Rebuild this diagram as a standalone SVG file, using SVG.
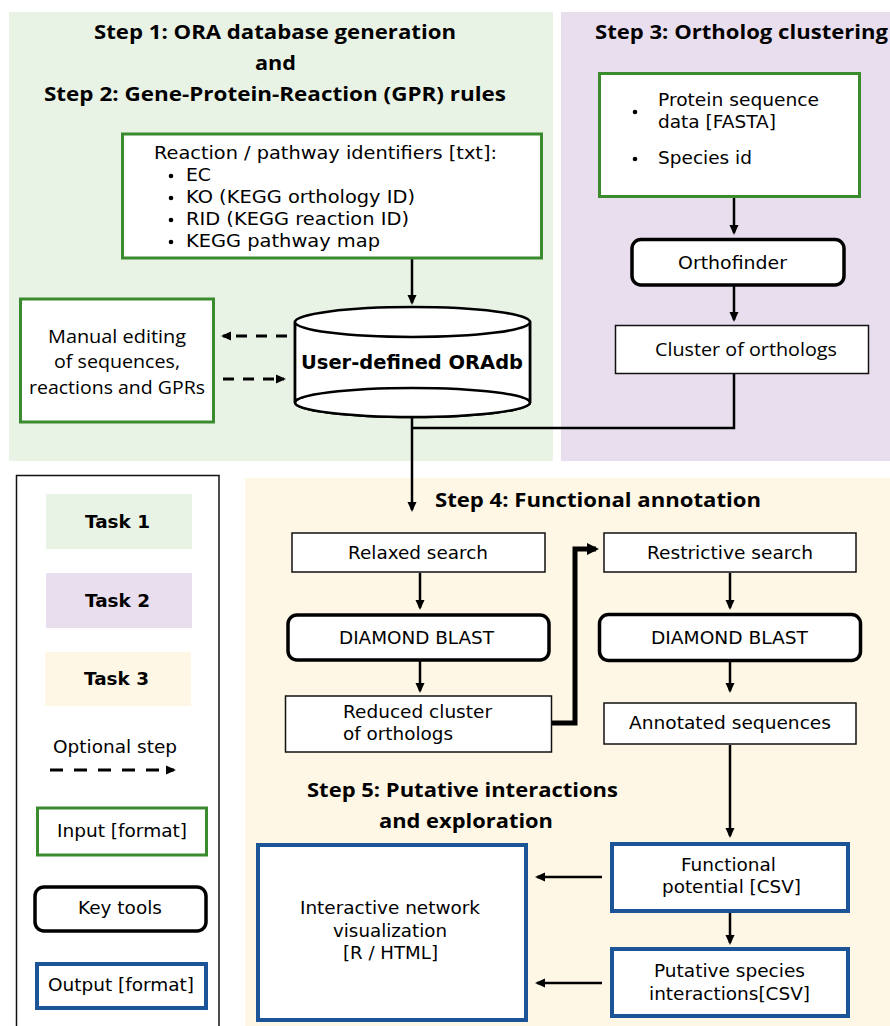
<svg xmlns="http://www.w3.org/2000/svg" width="890" height="1026" viewBox="0 0 890 1026">
<style>
.dv{font-family:"DejaVu Sans",Verdana,sans-serif;fill:#000}
.dvb{font-family:"DejaVu Sans",Verdana,sans-serif;font-weight:bold;fill:#000}
.os{font-family:"Open Sans",sans-serif;fill:#000}
.ttl{font-family:"Open Sans",sans-serif;font-weight:bold;font-size:19.5px;fill:#000}
.in{fill:#fff;stroke:#3a8a2e;stroke-width:3}
.out{fill:#fff;stroke:#1b5597;stroke-width:4}
.tool{fill:#fff;stroke:#000;stroke-width:3.5}
.plain{fill:#fff;stroke:#111;stroke-width:1.5}
.ar{fill:none;stroke:#000;stroke-width:2.5}
.dash{fill:none;stroke:#000;stroke-width:3;stroke-dasharray:11 9}
</style>
<defs>
<marker id="ah" markerUnits="userSpaceOnUse" viewBox="0 0 10 10" markerWidth="10" markerHeight="10" refX="8" refY="5" orient="auto">
<path d="M0,0.5 L10,5 L0,9.5 z" fill="#000"/>
</marker>
<marker id="ahb" markerUnits="userSpaceOnUse" viewBox="0 0 12 12" markerWidth="12" markerHeight="12" refX="9" refY="6" orient="auto">
<path d="M0,0 L12,6 L0,12 z" fill="#000"/>
</marker>
</defs>

<g id="panels">
<rect x="9" y="12" width="544" height="449" fill="#e9f3e5"/>
<rect x="561" y="12" width="329" height="449" fill="#e9deee"/>
<rect x="245" y="478" width="645" height="548" fill="#fff7e5"/>
</g>

<g id="titles">
<text class="ttl" x="275" y="39" text-anchor="middle" textLength="362" lengthAdjust="spacingAndGlyphs">Step 1: ORA database generation</text>
<text class="ttl" x="275.5" y="70" text-anchor="middle" textLength="41" lengthAdjust="spacingAndGlyphs">and</text>
<text class="ttl" x="275" y="101" text-anchor="middle" textLength="462" lengthAdjust="spacingAndGlyphs">Step 2: Gene-Protein-Reaction (GPR) rules</text>
<text class="ttl" x="741.5" y="39" text-anchor="middle" textLength="293" lengthAdjust="spacingAndGlyphs">Step 3: Ortholog clustering</text>
<text class="ttl" x="598" y="507" text-anchor="middle" textLength="326" lengthAdjust="spacingAndGlyphs">Step 4: Functional annotation</text>
<text class="ttl" x="462.5" y="797" text-anchor="middle" textLength="311" lengthAdjust="spacingAndGlyphs">Step 5: Putative interactions</text>
<text class="ttl" x="466" y="828" text-anchor="middle" textLength="174" lengthAdjust="spacingAndGlyphs">and exploration</text>
</g>

<g id="connectors">
<line class="ar" x1="412" y1="259" x2="412" y2="303" marker-end="url(#ah)"/>
<line class="dash" x1="287" y1="336" x2="223" y2="336" marker-end="url(#ah)"/>
<line class="dash" x1="223" y1="379" x2="284" y2="379" marker-end="url(#ah)"/>
<line class="ar" x1="412" y1="417" x2="412" y2="510" marker-end="url(#ah)"/>
<polyline class="ar" points="734,374 734,428 412,428"/>
<line class="ar" x1="734" y1="198" x2="734" y2="233" marker-end="url(#ah)"/>
<line class="ar" x1="734" y1="286" x2="734" y2="320" marker-end="url(#ah)"/>
<line class="ar" x1="420" y1="573" x2="420" y2="608" marker-end="url(#ah)"/>
<line class="ar" x1="420" y1="661" x2="420" y2="691" marker-end="url(#ah)"/>
<polyline points="552,723 575,723 575,549 596,549" fill="none" stroke="#000" stroke-width="5" marker-end="url(#ahb)"/>
<line class="ar" x1="730" y1="573" x2="730" y2="608" marker-end="url(#ah)"/>
<line class="ar" x1="730" y1="661" x2="730" y2="691" marker-end="url(#ah)"/>
<line class="ar" x1="730" y1="745" x2="730" y2="836" marker-end="url(#ah)"/>
<line class="ar" x1="730" y1="912" x2="730" y2="943" marker-end="url(#ah)"/>
<line class="ar" x1="602" y1="877" x2="537" y2="877" marker-end="url(#ah)"/>
<line class="ar" x1="602" y1="983" x2="537" y2="983" marker-end="url(#ah)"/>
</g>

<g id="node-reaction-ids">
<rect class="in" x="122.5" y="134" width="419" height="124"/>
<text class="dv" font-size="18.5" x="154" y="159" textLength="343" lengthAdjust="spacingAndGlyphs">Reaction / pathway identifiers [txt]:</text>
<circle cx="171" cy="176" r="2.3"/>
<circle cx="171" cy="198" r="2.3"/>
<circle cx="171" cy="220" r="2.3"/>
<circle cx="171" cy="242" r="2.3"/>
<text class="dv" font-size="18.5" x="186" y="181" textLength="25" lengthAdjust="spacingAndGlyphs">EC</text>
<text class="dv" font-size="18.5" x="186" y="203" textLength="229" lengthAdjust="spacingAndGlyphs">KO (KEGG orthology ID)</text>
<text class="dv" font-size="18.5" x="186" y="225" textLength="223" lengthAdjust="spacingAndGlyphs">RID (KEGG reaction ID)</text>
<text class="dv" font-size="18.5" x="186" y="247" textLength="194" lengthAdjust="spacingAndGlyphs">KEGG pathway map</text>
</g>

<g id="node-oradb">
<path d="M295,322 L295,402.5 A117.5,14.5 0 0 0 530,402.5 L530,322 Z" fill="#fff" stroke="#000" stroke-width="2.5"/>
<ellipse cx="412.5" cy="402.5" rx="117.5" ry="14.5" fill="#fff" stroke="#000" stroke-width="2.5"/>
<rect x="296.5" y="330" width="232" height="68" fill="#fff"/>
<line x1="295" y1="322" x2="295" y2="402.5" stroke="#000" stroke-width="2.5"/>
<line x1="530" y1="322" x2="530" y2="402.5" stroke="#000" stroke-width="2.5"/>
<path d="M295,402.5 A117.5,14.5 0 0 1 530,402.5" fill="none" stroke="#000" stroke-width="2.5"/>
<ellipse cx="412.5" cy="322" rx="117.5" ry="15" fill="#fff" stroke="#000" stroke-width="2.5"/>
<text class="dvb" font-size="19" x="412" y="369" text-anchor="middle" textLength="222" lengthAdjust="spacingAndGlyphs">User-defined ORAdb</text>
</g>

<g id="node-manual-editing">
<rect class="in" x="20.5" y="299" width="193" height="123"/>
<text class="os" font-size="18" x="117" y="343" text-anchor="middle" textLength="138" lengthAdjust="spacingAndGlyphs">Manual editing</text>
<text class="os" font-size="18" x="117" y="368" text-anchor="middle" textLength="126" lengthAdjust="spacingAndGlyphs">of sequences,</text>
<text class="os" font-size="18" x="117" y="394" text-anchor="middle" textLength="176" lengthAdjust="spacingAndGlyphs">reactions and GPRs</text>
</g>

<g id="node-protein-data">
<rect class="in" x="599.5" y="73.5" width="260" height="123"/>
<circle cx="635" cy="112" r="2.3"/>
<circle cx="635" cy="159" r="2.3"/>
<text class="dv" font-size="18.5" x="658" y="106" textLength="161" lengthAdjust="spacingAndGlyphs">Protein sequence</text>
<text class="dv" font-size="18.5" x="658" y="128" textLength="118" lengthAdjust="spacingAndGlyphs">data [FASTA]</text>
<text class="dv" font-size="18.5" x="658" y="164" textLength="94" lengthAdjust="spacingAndGlyphs">Species id</text>
</g>

<g id="node-orthofinder">
<rect class="tool" x="632" y="239.5" width="212" height="45.5" rx="9"/>
<text class="dv" font-size="18.5" x="732.5" y="269" text-anchor="middle" textLength="109" lengthAdjust="spacingAndGlyphs">Orthofinder</text>
</g>

<g id="node-cluster-orthologs">
<rect class="plain" x="615.5" y="325.5" width="253" height="48"/>
<text class="os" font-size="18" x="746" y="356" text-anchor="middle" textLength="182" lengthAdjust="spacingAndGlyphs">Cluster of orthologs</text>
</g>

<g id="legend">
<rect x="16.5" y="475.5" width="202.5" height="560" fill="#fff" stroke="#111" stroke-width="1.5"/>
<rect x="46" y="494" width="146" height="55" fill="#e9f3e5"/>
<text class="dvb" font-size="18" x="117.5" y="528" text-anchor="middle" textLength="65" lengthAdjust="spacingAndGlyphs">Task 1</text>
<rect x="46" y="573" width="146" height="55" fill="#e9deee"/>
<text class="dvb" font-size="18" x="117.5" y="607" text-anchor="middle" textLength="65" lengthAdjust="spacingAndGlyphs">Task 2</text>
<rect x="45" y="652" width="146" height="54" fill="#fff7e5"/>
<text class="dvb" font-size="18" x="116.5" y="685" text-anchor="middle" textLength="65" lengthAdjust="spacingAndGlyphs">Task 3</text>
<text class="dv" font-size="18" x="115" y="753" text-anchor="middle" textLength="124" lengthAdjust="spacingAndGlyphs">Optional step</text>
<line x1="50" y1="770" x2="174" y2="770" stroke="#000" stroke-width="3" stroke-dasharray="13 11" marker-end="url(#ah)"/>
<rect class="in" x="37.5" y="808" width="169" height="47"/>
<text class="dv" font-size="18" x="122" y="837" text-anchor="middle" textLength="130" lengthAdjust="spacingAndGlyphs">Input [format]</text>
<rect class="tool" x="35" y="887" width="171" height="44" rx="9"/>
<text class="dv" font-size="18" x="120" y="914" text-anchor="middle" textLength="84" lengthAdjust="spacingAndGlyphs">Key tools</text>
<rect class="out" x="37" y="964" width="169" height="44"/>
<text class="dv" font-size="18" x="121" y="991" text-anchor="middle" textLength="146" lengthAdjust="spacingAndGlyphs">Output [format]</text>
</g>

<g id="node-relaxed-search">
<rect class="plain" x="292" y="533" width="253" height="39"/>
<text class="dv" font-size="17.5" x="418" y="559" text-anchor="middle" textLength="140" lengthAdjust="spacingAndGlyphs">Relaxed search</text>
</g>

<g id="node-diamond-1">
<rect class="tool" x="288" y="615" width="261" height="45" rx="9"/>
<text class="dv" font-size="18" x="416.5" y="644" text-anchor="middle" textLength="155" lengthAdjust="spacingAndGlyphs">DIAMOND BLAST</text>
</g>

<g id="node-reduced-cluster">
<rect class="plain" x="285.5" y="696" width="266" height="56"/>
<text class="dv" font-size="18" x="343" y="718" textLength="149" lengthAdjust="spacingAndGlyphs">Reduced cluster</text>
<text class="dv" font-size="18" x="343" y="740" textLength="110" lengthAdjust="spacingAndGlyphs">of orthologs</text>
</g>

<g id="node-restrictive-search">
<rect class="plain" x="604" y="533" width="252" height="39"/>
<text class="dv" font-size="17.5" x="730" y="559" text-anchor="middle" textLength="166" lengthAdjust="spacingAndGlyphs">Restrictive search</text>
</g>

<g id="node-diamond-2">
<rect class="tool" x="599.5" y="614.5" width="261" height="46" rx="9"/>
<text class="dv" font-size="18" x="729.5" y="644" text-anchor="middle" textLength="157" lengthAdjust="spacingAndGlyphs">DIAMOND BLAST</text>
</g>

<g id="node-annotated-sequences">
<rect class="plain" x="604" y="703" width="252" height="41"/>
<text class="dv" font-size="17.5" x="730" y="729" text-anchor="middle" textLength="202" lengthAdjust="spacingAndGlyphs">Annotated sequences</text>
</g>

<g id="node-network-visualization">
<rect class="out" x="258" y="845" width="268" height="175"/>
<text class="dv" font-size="17.5" x="390" y="914" text-anchor="middle" textLength="180" lengthAdjust="spacingAndGlyphs">Interactive network</text>
<text class="dv" font-size="17.5" x="390" y="937" text-anchor="middle" textLength="114" lengthAdjust="spacingAndGlyphs">visualization</text>
<text class="dv" font-size="17.5" x="390.5" y="959" text-anchor="middle" textLength="95" lengthAdjust="spacingAndGlyphs">[R / HTML]</text>
</g>

<g id="node-functional-potential">
<rect class="out" x="612" y="844" width="236" height="67"/>
<text class="dv" font-size="17.5" x="728.5" y="871" text-anchor="middle" textLength="95" lengthAdjust="spacingAndGlyphs">Functional</text>
<text class="dv" font-size="17.5" x="731.5" y="893" text-anchor="middle" textLength="139" lengthAdjust="spacingAndGlyphs">potential [CSV]</text>
</g>

<g id="node-species-interactions">
<rect class="out" x="612" y="949" width="236" height="67"/>
<text class="dv" font-size="17.5" x="729.5" y="977" text-anchor="middle" textLength="151" lengthAdjust="spacingAndGlyphs">Putative species</text>
<text class="dv" font-size="17.5" x="729.5" y="1000" text-anchor="middle" textLength="161" lengthAdjust="spacingAndGlyphs">interactions[CSV]</text>
</g>
</svg>
